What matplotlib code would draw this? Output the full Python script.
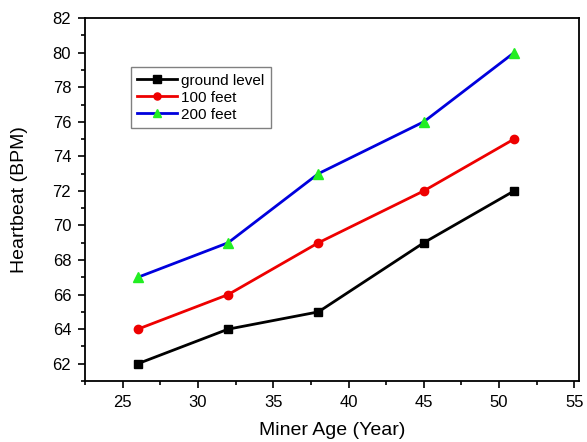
import matplotlib
matplotlib.use("Agg")
import matplotlib.pyplot as plt
from matplotlib.ticker import MultipleLocator

plt.rcParams['font.family'] = ['Liberation Sans', 'DejaVu Sans']

ages = [26, 32, 38, 45, 51]
ground_level = [62, 64, 65, 69, 72]
feet_100 = [64, 66, 69, 72, 75]
feet_200 = [67, 69, 73, 76, 80]

fig = plt.figure(figsize=(5.87, 4.42), dpi=100)
ax = fig.add_axes([0.145, 0.138, 0.841, 0.821])

ax.plot(ages, ground_level, '-s', color='black', mfc='black', mec='black', lw=2, ms=6, label='ground level')
ax.plot(ages, feet_100, '-o', color='#ee0000', mfc='#ee0000', mec='#ee0000', lw=2, ms=6, label='100 feet')
ax.plot(ages, feet_200, '-^', color='#0000dd', mfc='#22ee22', mec='#22ee22', lw=2, ms=7, label='200 feet')

ax.set_xlim(22.5, 55.3)
ax.set_ylim(61, 82)
ax.xaxis.set_major_locator(MultipleLocator(5))
ax.xaxis.set_minor_locator(MultipleLocator(2.5))
ax.yaxis.set_major_locator(MultipleLocator(2))
ax.yaxis.set_minor_locator(MultipleLocator(1))
ax.tick_params(which='major', direction='out', length=5, width=1.2, labelsize=12, pad=5, top=False, right=False)
ax.tick_params(which='minor', direction='out', length=3, width=1.2, top=False, right=False)
for s in ax.spines.values():
    s.set_linewidth(1.3)

ax.set_xlabel('Miner Age (Year)', fontsize=14, labelpad=9)
ax.set_ylabel('Heartbeat (BPM)', fontsize=14, labelpad=18)

leg = ax.legend(loc='upper left', bbox_to_anchor=(0.077, 0.885), fontsize=11, fancybox=False,
                edgecolor='gray', framealpha=1, handlelength=2.6, handletextpad=0.3,
                borderpad=0.4, labelspacing=0.2, markerscale=0.85)
leg.get_frame().set_linewidth(1.0)

fig.savefig('out.png', dpi=100)
